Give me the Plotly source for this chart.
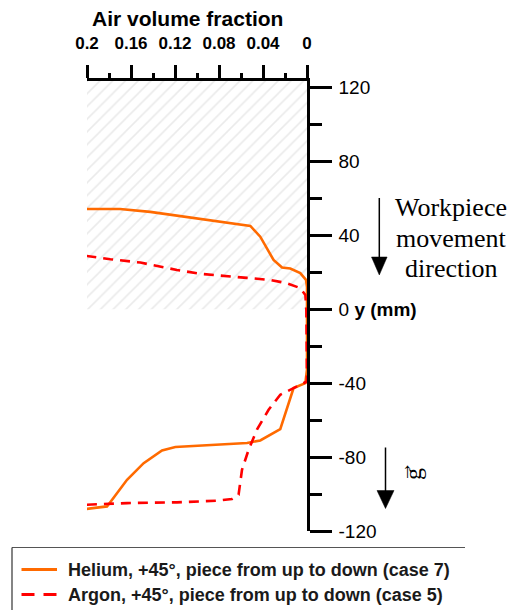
import plotly.graph_objects as go

# Air volume fraction profiles along the piece (y in mm)
helium_x = [0.2006, 0.170, 0.1425, 0.103, 0.0515, 0.0425, 0.0304, 0.0227, 0.0152, 0.0061, 0.0009, 0.0,
            0.0, 0.0, 0.0015, 0.0122, 0.0243, 0.0425, 0.0545, 0.0758, 0.094, 0.1197, 0.1318, 0.1485,
            0.1636, 0.1804, 0.1818, 0.2006]
helium_y = [54.2, 54.2, 52.6, 49.2, 45.0, 39.2, 26.6, 22.5, 22.0, 19.5, 15.8, 12.0,
            0.0, -32.6, -40.0, -42.7, -64.9, -71.0, -72.4, -73.2, -73.9, -74.6, -76.4, -83.3,
            -92.3, -105.8, -106.7, -108.1]

argon_x = [0.2006, 0.1788, 0.1515, 0.1334, 0.1182, 0.097, 0.0727, 0.0545, 0.0334, 0.0182, 0.0061,
           0.0015, 0.0006, 0.0, 0.0, 0.0122, 0.0243, 0.0349, 0.0455, 0.0531, 0.0591, 0.0622, 0.0682,
           0.0818, 0.1182, 0.1636, 0.1818, 0.2006]
argon_y = [28.8, 27.0, 25.2, 23.0, 21.2, 19.1, 18.0, 16.9, 15.8, 14.0, 11.4,
           7.7, -0.4, -20.0, -39.1, -42.7, -46.3, -54.4, -65.2, -76.1, -86.9, -100.4, -102.7,
           -103.6, -104.5, -104.9, -105.2, -105.8]

# Region occupied by the workpiece (hatched)
piece_x = [0.2015, 0.0, 0.0, 0.2015, 0.2015]
piece_y = [0, 0, 123.4, 123.4, 0]

x_ticks = [0.2, 0.16, 0.12, 0.08, 0.04, 0.0]
x_labels = ["0.2", "0.16", "0.12", "0.08", "0.04", "0"]
y_ticks = [120, 80, 40, 0, -40, -80, -120]
y_labels = ["120", "80", "40", "0 <b>y (mm)</b>", "-40", "-80", "-120"]

series_names = ["Helium, +45°, piece from up to down (case 7)",
                "Argon, +45°, piece from up to down (case 5)"]
series_colors = ["#ff6a00", "#ff0000"]
series_dash = ["solid", "10px,7px"]
legend_dash = ["solid", "13px,9px"]

FIG_W, FIG_H = 509, 610
L, R, T, B = 87, 202, 81, 79
PW, PH = FIG_W - L - R, FIG_H - T - B


def px(x):
    return (x - L) / PW


def py(y):
    return (FIG_H - B - y) / PH


SANS = "Liberation Sans, Arial, sans-serif"
SERIF = "Liberation Serif, Times New Roman, serif"

fig = go.Figure()

fig.add_trace(go.Scatter(
    x=piece_x, y=piece_y, mode="lines", fill="toself",
    line=dict(width=0), fillcolor="rgba(0,0,0,0)",
    fillpattern=dict(shape="/", fgcolor="#d6d6d6", bgcolor="rgba(0,0,0,0)",
                     size=9, solidity=0.18),
    showlegend=False, hoverinfo="skip",
))

for xs, ys, name, color, dash in zip([helium_x, argon_x], [helium_y, argon_y],
                                     series_names, series_colors, series_dash):
    fig.add_trace(go.Scatter(
        x=xs, y=ys, mode="lines", name=name,
        line=dict(color=color, width=2.6, dash=dash),
        cliponaxis=False, showlegend=False,
    ))

shapes = [
    # workpiece movement arrow
    dict(type="line", xref="paper", yref="paper",
         x0=px(379.3), x1=px(379.3), y0=py(198), y1=py(260),
         line=dict(color="black", width=1.5)),
    dict(type="path", xref="paper", yref="paper",
         path=f"M {px(371.5)},{py(257)} L {px(387.1)},{py(257)} L {px(379.3)},{py(275)} Z",
         fillcolor="black", line=dict(color="black", width=0.5)),
    # gravity arrow
    dict(type="line", xref="paper", yref="paper",
         x0=px(385.5), x1=px(385.5), y0=py(447.5), y1=py(493),
         line=dict(color="black", width=1.5)),
    dict(type="path", xref="paper", yref="paper",
         path=f"M {px(377)},{py(490.5)} L {px(394)},{py(490.5)} L {px(385.5)},{py(508.5)} Z",
         fillcolor="black", line=dict(color="black", width=0.5)),
    # legend frame
    dict(type="line", xref="paper", yref="paper",
         x0=px(12), x1=px(465), y0=py(547.5), y1=py(547.5),
         line=dict(color="#555555", width=1.2)),
    dict(type="line", xref="paper", yref="paper",
         x0=px(12), x1=px(12), y0=py(547.5), y1=py(615),
         line=dict(color="#333333", width=1.2)),
]

annotations = [
    dict(text="<b>Air volume fraction</b>", xref="paper", yref="paper",
         x=px(187.5), y=py(18.5), showarrow=False, xanchor="center", yanchor="middle",
         font=dict(family=SANS, size=21, color="black")),
    dict(text="g", xref="paper", yref="paper",
         x=px(413), y=py(474), showarrow=False, xanchor="center", yanchor="middle",
         textangle=-90, font=dict(family=SERIF, size=24, color="black")),
    dict(text="→", xref="paper", yref="paper",
         x=px(404), y=py(472), showarrow=False, xanchor="center", yanchor="middle",
         textangle=-90, font=dict(family=SERIF, size=21, color="black")),
]

# Movement direction label, one annotation per line
for text, ycen in zip(["Workpiece", "movement", "direction"], [207, 238, 268]):
    annotations.append(dict(
        text=text, xref="paper", yref="paper", x=px(451), y=py(ycen),
        showarrow=False, xanchor="center", yanchor="middle",
        font=dict(family=SERIF, size=26, color="black")))

# Legend rows: line sample + label
for i, (name, color, dash) in enumerate(zip(series_names, series_colors, legend_dash)):
    ycen = 569.5 + 25 * i
    shapes.append(dict(type="line", xref="paper", yref="paper",
                       x0=px(21.5), x1=px(57), y0=py(ycen), y1=py(ycen),
                       line=dict(color=color, width=2.8, dash=dash)))
    annotations.append(dict(
        text=f"<b>{name}</b>", xref="paper", yref="paper", x=px(66), y=py(ycen),
        showarrow=False, xanchor="left", yanchor="middle",
        font=dict(family=SANS, size=18, color="#1a1a1a")))

fig.update_layout(
    width=FIG_W, height=FIG_H,
    margin=dict(l=L, r=R, t=T, b=B, pad=0, autoexpand=False),
    paper_bgcolor="white", plot_bgcolor="white",
    shapes=shapes, annotations=annotations,
    showlegend=False,
    xaxis=dict(
        side="top", range=[0.2, 0.0], showgrid=False, zeroline=False,
        showline=True, linecolor="black", linewidth=2.5,
        ticks="outside", ticklen=13, tickwidth=2.5, tickcolor="black",
        tickvals=x_ticks, ticktext=x_labels, ticklabelstandoff=9,
        tickfont=dict(family=SANS, size=17, color="black", weight="bold"),
        minor=dict(dtick=0.02, tick0=0, ticks="outside", ticklen=5, tickwidth=2.5, tickcolor="black"),
        layer="below traces", fixedrange=True, automargin=False,
    ),
    yaxis=dict(
        side="right", range=[-120, 123.4], showgrid=False, zeroline=False,
        showline=True, linecolor="black", linewidth=2.5,
        ticks="outside", ticklen=22, tickwidth=2.5, tickcolor="black",
        tickvals=y_ticks, ticktext=y_labels, ticklabelstandoff=3,
        tickfont=dict(family=SANS, size=19, color="black"),
        minor=dict(dtick=20, tick0=0, ticks="outside", ticklen=12, tickwidth=2.5, tickcolor="black"),
        layer="below traces", fixedrange=True, automargin=False,
    ),
)

fig.write_html("out.html")
